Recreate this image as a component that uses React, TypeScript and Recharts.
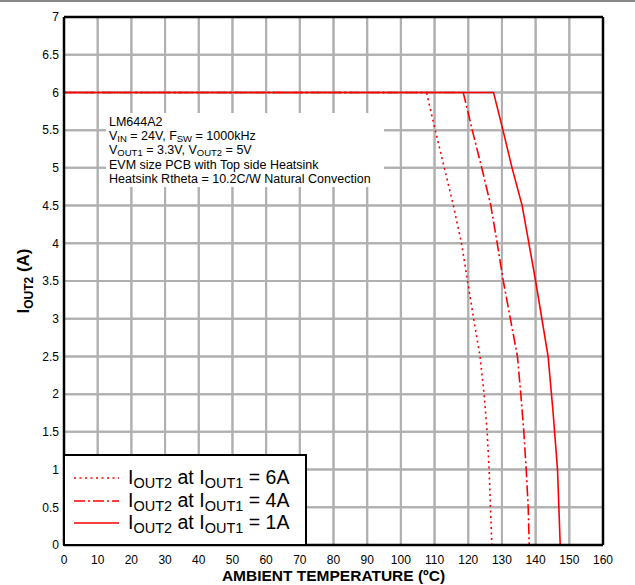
import { LineChart, Line, XAxis, YAxis, CartesianGrid, ReferenceLine } from "recharts";

const xTicks = [0, 10, 20, 30, 40, 50, 60, 70, 80, 90, 100, 110, 120, 130, 140, 150, 160];
const yTicks = [0, 0.5, 1, 1.5, 2, 2.5, 3, 3.5, 4, 4.5, 5, 5.5, 6, 6.5, 7];

// IOUT1 = 6A (dotted)
const temp6A = [0, 107.6, 110.2, 112.9, 115.6, 118, 119.8, 121.6, 123.5, 124.7, 125.6, 126.2, 126.6, 127];
const iout6A = [6, 6, 5.5, 5, 4.5, 4, 3.5, 3, 2.5, 2, 1.5, 1, 0.5, 0];

// IOUT1 = 4A (dash-dot)
const temp4A = [0, 118.5, 121.2, 124, 126.7, 128.6, 130.4, 132.5, 134.6, 135.6, 136.5, 137.2, 137.8, 138.1];
const iout4A = [6, 6, 5.5, 5, 4.5, 4, 3.5, 3, 2.5, 2, 1.5, 1, 0.5, 0];

// IOUT1 = 1A (solid)
const temp1A = [0, 127.5, 130.3, 133, 136, 140, 143.7, 145.2, 146.5, 147.3];
const iout1A = [6, 6, 5.5, 5, 4.5, 3.5, 2.5, 1.75, 1, 0];

const seriesNames = ["6A", "4A", "1A"];
const seriesDash = ["2 3.5", "11 3 2 3", undefined];

const zip = (xs: number[], ys: number[]) => xs.map((x, i) => ({ x, y: ys[i] }));
const seriesData = [zip(temp6A, iout6A), zip(temp4A, iout4A), zip(temp1A, iout1A)];

const FONT = "'Liberation Sans', Arial, sans-serif";
const RED = "#ff0000";
const GRID = "#b0b0b0";

function Sub({ children, size }: { children: string; size: number }) {
  return <span style={{ fontSize: size, verticalAlign: "-0.25em", lineHeight: 1 }}>{children}</span>;
}

function YTitle(props: any) {
  const vb = props.viewBox || { x: 0, y: 0, width: 64, height: 0 };
  const cx = vb.x + 29;
  const cy = vb.y + vb.height / 2;
  return (
    <text
      x={cx}
      y={cy}
      transform={`rotate(-90 ${cx} ${cy})`}
      textAnchor="middle"
      fontFamily={FONT}
      fontWeight="bold"
      fontSize={17}
      fill="#000"
    >
      <tspan>I</tspan>
      <tspan fontSize={12} dy={4}>OUT2</tspan>
      <tspan dy={-4}> (A)</tspan>
    </text>
  );
}

export default function App() {
  return (
    <div
      style={{
        position: "absolute",
        left: 0,
        top: 0,
        width: 635,
        height: 585,
        background: "#fff",
        fontFamily: FONT,
      }}
    >
      <div style={{ position: "absolute", left: 0, top: 0, width: 635, height: 2, background: "#888" }} />
      <LineChart width={635} height={585} margin={{ top: 17, right: 32, bottom: 0, left: 0 }}>
        <CartesianGrid stroke={GRID} strokeWidth={2} strokeOpacity={1} />
        <XAxis
          type="number"
          dataKey="x"
          domain={[0, 160]}
          ticks={xTicks}
          interval={0}
          height={40}
          tickLine={false}
          tickSize={4}
          tickMargin={6}
          axisLine={{ stroke: "#000", strokeWidth: 2.5 }}
          tick={{ fill: "#000", fontSize: 12, fontFamily: FONT }}
          allowDataOverflow
          label={{
            value: "AMBIENT TEMPERATURE (ºC)",
            position: "insideBottom",
            offset: 4,
            fill: "#000",
            fontSize: 15.5,
            fontWeight: "bold",
            fontFamily: FONT,
          }}
        />
        <YAxis
          type="number"
          domain={[0, 7]}
          ticks={yTicks}
          interval={0}
          width={64}
          tickLine={false}
          tickSize={2}
          tickMargin={3}
          axisLine={{ stroke: "#000", strokeWidth: 2.5 }}
          tick={{ fill: "#000", fontSize: 12, fontFamily: FONT }}
          label={{ content: YTitle }}
        />
        {xTicks.map((v) => (
          <ReferenceLine key={`gx${v}`} x={v} stroke={GRID} strokeWidth={2} strokeOpacity={1} />
        ))}
        {yTicks.map((v) => (
          <ReferenceLine key={`gy${v}`} y={v} stroke={GRID} strokeWidth={2} strokeOpacity={1} />
        ))}
        {/* plot frame, top and right */}
        <ReferenceLine x={160} stroke="#000" strokeWidth={2.5} />
        <ReferenceLine y={7} stroke="#000" strokeWidth={2.5} />
        {seriesData.map((d, i) => (
          <Line
            key={seriesNames[i]}
            data={d}
            dataKey="y"
            type="linear"
            stroke={RED}
            strokeWidth={1.6}
            strokeDasharray={seriesDash[i]}
            dot={false}
            activeDot={false}
            isAnimationActive={false}
          />
        ))}
      </LineChart>

      {/* annotation */}
      <div
        style={{
          position: "absolute",
          left: 106,
          top: 113,
          width: 278,
          height: 74,
          background: "#fff",
          fontSize: 12.5,
          color: "#000",
          paddingLeft: 3,
          paddingTop: 2,
          boxSizing: "border-box",
        }}
      >
        {[
          <>LM644A2</>,
          <>
            V<Sub size={9.5}>IN</Sub> = 24V, F<Sub size={9.5}>SW</Sub> = 1000kHz
          </>,
          <>
            V<Sub size={9.5}>OUT1</Sub> = 3.3V, V<Sub size={9.5}>OUT2</Sub> = 5V
          </>,
          <>EVM size PCB with Top side Heatsink</>,
          <>Heatsink Rtheta = 10.2C/W Natural Convection</>,
        ].map((c, i) => (
          <div key={i} style={{ height: 14.2, lineHeight: "14.2px", whiteSpace: "nowrap" }}>
            {c}
          </div>
        ))}
      </div>

      {/* legend */}
      <div
        style={{
          position: "absolute",
          left: 63,
          top: 454,
          width: 244,
          height: 92,
          background: "#fff",
          border: "2px solid #000",
          boxSizing: "border-box",
          paddingTop: 11,
        }}
      >
        {seriesNames.map((n, i) => (
          <div key={n} style={{ display: "flex", alignItems: "center", height: 22.5, fontSize: 19.5, color: "#000" }}>
            <svg width={54} height={10} style={{ marginLeft: 9, flex: "none" }}>
              <line x1={0} y1={5} x2={45} y2={5} stroke={RED} strokeWidth={1.6} strokeDasharray={seriesDash[i]} />
            </svg>
            <span style={{ whiteSpace: "nowrap" }}>
              I<Sub size={14.5}>OUT2</Sub> at I<Sub size={14.5}>OUT1</Sub> = {n}
            </span>
          </div>
        ))}
      </div>
    </div>
  );
}
